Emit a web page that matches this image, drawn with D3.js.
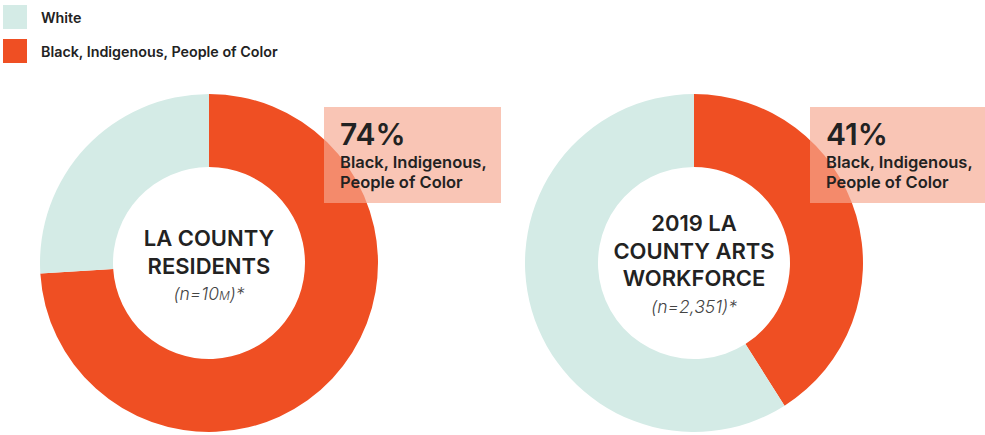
<!DOCTYPE html>
<html>
<head>
<meta charset="utf-8">
<script src="https://cdn.jsdelivr.net/npm/d3@7"></script>
<style>
  body { margin: 0; background: #fff; }
  svg { display: block; font-family: Inter, "Open Sans", sans-serif; }
</style>
</head>
<body>
<svg id="chart" width="985" height="435"></svg>
<script>
// data
var categories = ["Black, Indigenous, People of Color", "White"];
var legendOrder = ["White", "Black, Indigenous, People of Color"];
var residents = [74, 26];
var workforce = [41, 59];
var titles = [
    { lines: ["LA COUNTY", "RESIDENTS"], note: ["(n=10", "M", ")*"] },
    { lines: ["2019 LA", "COUNTY ARTS", "WORKFORCE"], note: ["(n=2,351)*", "", ""] }
];
var pctLabels = ["74%", "41%"];

var color = d3.scaleOrdinal()
    .domain(categories)
    .range(["#ef4f23", "#d4ebe6"]);

var svg = d3.select("#chart");

// legend
var legend = svg.append("g").attr("class", "legend");
legendOrder.forEach(function(c, i) {
    var g = legend.append("g").attr("transform", "translate(3," + (5 + i * 34) + ")");
    g.append("rect").attr("width", 24).attr("height", 24).attr("fill", color(c));
    g.append("text")
        .attr("x", 38).attr("y", 17.5)
        .attr("font-size", 14.3).attr("font-weight", 600)
        .attr("fill", "#222")
        .text(c);
});

var outerR = 169, innerR = 96;
var pie = d3.pie().sort(null).value(function(d) { return d.v; });
var arc = d3.arc().innerRadius(innerR).outerRadius(outerR);

var donuts = [
    { values: residents, cx: 209, cy: 263, box: { x: 324, w: 177 } },
    { values: workforce, cx: 694, cy: 263, box: { x: 810, w: 180 } }
];

donuts.forEach(function(dn, k) {
    var data = categories.map(function(c, i) { return { c: c, v: dn.values[i] }; });
    var g = svg.append("g").attr("transform", "translate(" + dn.cx + "," + dn.cy + ")");

    g.selectAll("path")
        .data(pie(data))
        .enter().append("path")
        .attr("d", arc)
        .attr("fill", function(d) { return color(d.data.c); });

    // center title
    var t = titles[k];
    var n = t.lines.length;
    var firstY = n === 2 ? -17 : -32;
    t.lines.forEach(function(l, i) {
        g.append("text")
            .attr("text-anchor", "middle")
            .attr("y", firstY + i * 27.5)
            .attr("font-size", 22).attr("font-weight", 600)
            .attr("fill", "#222")
            .text(l);
    });
    var note = g.append("text")
        .attr("text-anchor", "middle")
        .attr("y", firstY + n * 27.5 - 1)
        .attr("font-size", 17.5).attr("font-style", "italic").attr("font-weight", 300)
        .attr("fill", "#444");
    note.append("tspan").text(t.note[0]);
    if (t.note[1]) {
        note.append("tspan").attr("font-size", 12).text(t.note[1]);
        note.append("tspan").text(t.note[2]);
    }

    // label box
    var bx = svg.append("g").attr("transform", "translate(" + dn.box.x + ",107)");
    bx.append("rect")
        .attr("width", dn.box.w).attr("height", 96)
        .attr("fill", "#f6a890").attr("fill-opacity", 0.667);
    bx.append("text")
        .attr("x", 16).attr("y", 38)
        .attr("font-size", 30).attr("font-weight", 600)
        .attr("fill", "#222")
        .text(pctLabels[k]);
    ["Black, Indigenous,", "People of Color"].forEach(function(l, i) {
        bx.append("text")
            .attr("x", 16).attr("y", 60.5 + i * 20)
            .attr("font-size", 16.5).attr("font-weight", 600)
            .attr("fill", "#222")
            .text(l);
    });
});
</script>
</body>
</html>
